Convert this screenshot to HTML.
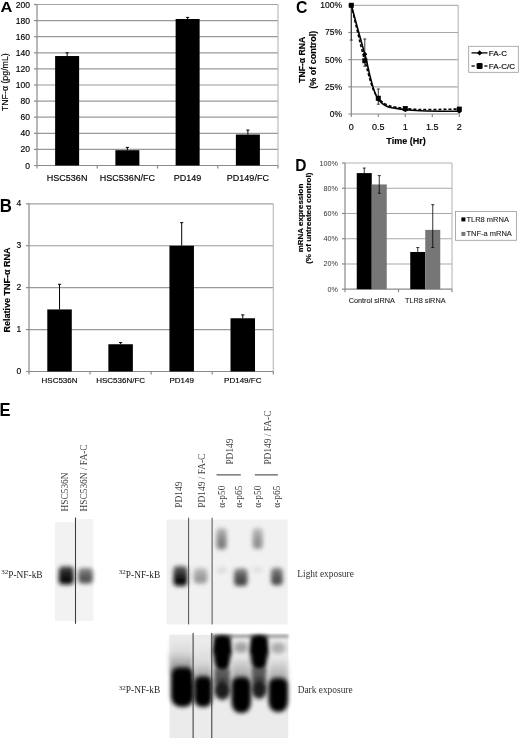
<!DOCTYPE html>
<html><head><meta charset="utf-8"><style>
html,body{margin:0;padding:0;background:#fff;}
svg{display:block;filter:grayscale(1);}
</style></head><body>
<svg width="520" height="741" viewBox="0 0 520 741">
<defs>
<filter id="b1" x="-50%" y="-50%" width="200%" height="200%"><feGaussianBlur stdDeviation="1.5"/></filter>
<filter id="b2" x="-50%" y="-50%" width="200%" height="200%"><feGaussianBlur stdDeviation="2.5"/></filter>
<filter id="b3" x="-50%" y="-50%" width="200%" height="200%"><feGaussianBlur stdDeviation="3.5"/></filter>
<filter id="b15" x="-50%" y="-50%" width="200%" height="200%"><feGaussianBlur stdDeviation="1.9"/></filter>
<filter id="b05" x="-50%" y="-50%" width="200%" height="200%"><feGaussianBlur stdDeviation="0.6"/></filter>
</defs>
<rect width="520" height="741" fill="#fff"/>
<line x1="37" y1="149.4" x2="278" y2="149.4" stroke="#999" stroke-width="1.2" />
<line x1="34" y1="149.4" x2="37" y2="149.4" stroke="#8a8a8a" stroke-width="1.2" />
<line x1="37" y1="133.3" x2="278" y2="133.3" stroke="#999" stroke-width="1.2" />
<line x1="34" y1="133.3" x2="37" y2="133.3" stroke="#8a8a8a" stroke-width="1.2" />
<line x1="37" y1="117.19999999999999" x2="278" y2="117.19999999999999" stroke="#999" stroke-width="1.2" />
<line x1="34" y1="117.19999999999999" x2="37" y2="117.19999999999999" stroke="#8a8a8a" stroke-width="1.2" />
<line x1="37" y1="101.1" x2="278" y2="101.1" stroke="#999" stroke-width="1.2" />
<line x1="34" y1="101.1" x2="37" y2="101.1" stroke="#8a8a8a" stroke-width="1.2" />
<line x1="37" y1="85.0" x2="278" y2="85.0" stroke="#999" stroke-width="1.2" />
<line x1="34" y1="85.0" x2="37" y2="85.0" stroke="#8a8a8a" stroke-width="1.2" />
<line x1="37" y1="68.89999999999999" x2="278" y2="68.89999999999999" stroke="#999" stroke-width="1.2" />
<line x1="34" y1="68.89999999999999" x2="37" y2="68.89999999999999" stroke="#8a8a8a" stroke-width="1.2" />
<line x1="37" y1="52.8" x2="278" y2="52.8" stroke="#999" stroke-width="1.2" />
<line x1="34" y1="52.8" x2="37" y2="52.8" stroke="#8a8a8a" stroke-width="1.2" />
<line x1="37" y1="36.69999999999999" x2="278" y2="36.69999999999999" stroke="#999" stroke-width="1.2" />
<line x1="34" y1="36.69999999999999" x2="37" y2="36.69999999999999" stroke="#8a8a8a" stroke-width="1.2" />
<line x1="37" y1="20.599999999999994" x2="278" y2="20.599999999999994" stroke="#999" stroke-width="1.2" />
<line x1="34" y1="20.599999999999994" x2="37" y2="20.599999999999994" stroke="#8a8a8a" stroke-width="1.2" />
<line x1="37" y1="4.5" x2="278" y2="4.5" stroke="#a2a2a2" stroke-width="1.2" />
<line x1="34" y1="4.5" x2="37" y2="4.5" stroke="#8a8a8a" stroke-width="1.2" />
<line x1="278" y1="4.5" x2="278" y2="165.5" stroke="#bdbdbd" stroke-width="1.2" />
<line x1="37" y1="4.5" x2="37" y2="168.5" stroke="#8a8a8a" stroke-width="1.2" />
<line x1="34" y1="165.5" x2="278" y2="165.5" stroke="#8a8a8a" stroke-width="1.2" />
<line x1="97.25" y1="165.5" x2="97.25" y2="168.5" stroke="#8a8a8a" stroke-width="1.2" />
<line x1="157.5" y1="165.5" x2="157.5" y2="168.5" stroke="#8a8a8a" stroke-width="1.2" />
<line x1="217.75" y1="165.5" x2="217.75" y2="168.5" stroke="#8a8a8a" stroke-width="1.2" />
<line x1="278.0" y1="165.5" x2="278.0" y2="168.5" stroke="#8a8a8a" stroke-width="1.2" />
<text x="30" y="168.5" font-size="8.5" text-anchor="end" fill="#000" stroke="#000" stroke-width="0.15" font-family='"Liberation Sans", sans-serif' >0</text>
<text x="30" y="152.4" font-size="8.5" text-anchor="end" fill="#000" stroke="#000" stroke-width="0.15" font-family='"Liberation Sans", sans-serif' >20</text>
<text x="30" y="136.3" font-size="8.5" text-anchor="end" fill="#000" stroke="#000" stroke-width="0.15" font-family='"Liberation Sans", sans-serif' >40</text>
<text x="30" y="120.19999999999999" font-size="8.5" text-anchor="end" fill="#000" stroke="#000" stroke-width="0.15" font-family='"Liberation Sans", sans-serif' >60</text>
<text x="30" y="104.1" font-size="8.5" text-anchor="end" fill="#000" stroke="#000" stroke-width="0.15" font-family='"Liberation Sans", sans-serif' >80</text>
<text x="30" y="88.0" font-size="8.5" text-anchor="end" fill="#000" stroke="#000" stroke-width="0.15" font-family='"Liberation Sans", sans-serif' >100</text>
<text x="30" y="71.89999999999999" font-size="8.5" text-anchor="end" fill="#000" stroke="#000" stroke-width="0.15" font-family='"Liberation Sans", sans-serif' >120</text>
<text x="30" y="55.8" font-size="8.5" text-anchor="end" fill="#000" stroke="#000" stroke-width="0.15" font-family='"Liberation Sans", sans-serif' >140</text>
<text x="30" y="39.69999999999999" font-size="8.5" text-anchor="end" fill="#000" stroke="#000" stroke-width="0.15" font-family='"Liberation Sans", sans-serif' >160</text>
<text x="30" y="23.599999999999994" font-size="8.5" text-anchor="end" fill="#000" stroke="#000" stroke-width="0.15" font-family='"Liberation Sans", sans-serif' >180</text>
<text x="30" y="7.5" font-size="8.5" text-anchor="end" fill="#000" stroke="#000" stroke-width="0.15" font-family='"Liberation Sans", sans-serif' >200</text>
<text transform="translate(5.0,82.2) rotate(-90)" x="0" y="0" font-size="8.8" text-anchor="middle" fill="#000" stroke="#000" stroke-width="0.15" font-family='"Liberation Sans", sans-serif' dominant-baseline="central">TNF-&#945; (pg/mL)</text>
<rect x="55.125" y="56.019999999999996" width="24" height="109.48" fill="#000" />
<line x1="67.125" y1="52.8" x2="67.125" y2="56.019999999999996" stroke="#000" stroke-width="1" />
<line x1="65.525" y1="52.8" x2="68.725" y2="52.8" stroke="#000" stroke-width="1" />
<text x="67.125" y="181.4" font-size="9" text-anchor="middle" fill="#000" stroke="#000" stroke-width="0.15" font-family='"Liberation Sans", sans-serif' >HSC536N</text>
<rect x="115.375" y="150.20499999999998" width="24" height="15.295000000000002" fill="#000" />
<line x1="127.375" y1="147.3875" x2="127.375" y2="150.20499999999998" stroke="#000" stroke-width="1" />
<line x1="125.775" y1="147.3875" x2="128.975" y2="147.3875" stroke="#000" stroke-width="1" />
<text x="127.375" y="181.4" font-size="9" text-anchor="middle" fill="#000" stroke="#000" stroke-width="0.15" font-family='"Liberation Sans", sans-serif' >HSC536N/FC</text>
<rect x="175.625" y="18.98999999999998" width="24" height="146.51000000000002" fill="#000" />
<line x1="187.625" y1="17.379999999999995" x2="187.625" y2="18.98999999999998" stroke="#000" stroke-width="1" />
<line x1="186.025" y1="17.379999999999995" x2="189.225" y2="17.379999999999995" stroke="#000" stroke-width="1" />
<text x="187.625" y="181.4" font-size="9" text-anchor="middle" fill="#000" stroke="#000" stroke-width="0.15" font-family='"Liberation Sans", sans-serif' >PD149</text>
<rect x="235.875" y="134.5075" width="24" height="30.992500000000003" fill="#000" />
<line x1="247.875" y1="130.07999999999998" x2="247.875" y2="134.5075" stroke="#000" stroke-width="1" />
<line x1="246.275" y1="130.07999999999998" x2="249.475" y2="130.07999999999998" stroke="#000" stroke-width="1" />
<text x="247.875" y="181.4" font-size="9" text-anchor="middle" fill="#000" stroke="#000" stroke-width="0.15" font-family='"Liberation Sans", sans-serif' >PD149/FC</text>
<text transform="translate(0.4,12.3) scale(1,0.9)" font-size="16.5" font-weight="bold" fill="#000" font-family='"Liberation Sans", sans-serif'>A</text>
<line x1="29" y1="329.575" x2="273.3" y2="329.575" stroke="#999" stroke-width="1.2" />
<line x1="26" y1="329.575" x2="29" y2="329.575" stroke="#8a8a8a" stroke-width="1.2" />
<line x1="29" y1="287.65" x2="273.3" y2="287.65" stroke="#999" stroke-width="1.2" />
<line x1="26" y1="287.65" x2="29" y2="287.65" stroke="#8a8a8a" stroke-width="1.2" />
<line x1="29" y1="245.72500000000002" x2="273.3" y2="245.72500000000002" stroke="#999" stroke-width="1.2" />
<line x1="26" y1="245.72500000000002" x2="29" y2="245.72500000000002" stroke="#8a8a8a" stroke-width="1.2" />
<line x1="29" y1="203.8" x2="273.3" y2="203.8" stroke="#a2a2a2" stroke-width="1.2" />
<line x1="26" y1="203.8" x2="29" y2="203.8" stroke="#8a8a8a" stroke-width="1.2" />
<line x1="273.3" y1="203.8" x2="273.3" y2="371.5" stroke="#bdbdbd" stroke-width="1.2" />
<line x1="29" y1="203.8" x2="29" y2="374.5" stroke="#8a8a8a" stroke-width="1.2" />
<line x1="26" y1="371.5" x2="273.3" y2="371.5" stroke="#8a8a8a" stroke-width="1.2" />
<line x1="90.075" y1="371.5" x2="90.075" y2="374.5" stroke="#8a8a8a" stroke-width="1.2" />
<line x1="151.15" y1="371.5" x2="151.15" y2="374.5" stroke="#8a8a8a" stroke-width="1.2" />
<line x1="212.22500000000002" y1="371.5" x2="212.22500000000002" y2="374.5" stroke="#8a8a8a" stroke-width="1.2" />
<line x1="273.3" y1="371.5" x2="273.3" y2="374.5" stroke="#8a8a8a" stroke-width="1.2" />
<text x="21.2" y="373.9" font-size="8.5" text-anchor="end" fill="#000" stroke="#000" stroke-width="0.15" font-family='"Liberation Sans", sans-serif' >0</text>
<text x="21.2" y="331.97499999999997" font-size="8.5" text-anchor="end" fill="#000" stroke="#000" stroke-width="0.15" font-family='"Liberation Sans", sans-serif' >1</text>
<text x="21.2" y="290.04999999999995" font-size="8.5" text-anchor="end" fill="#000" stroke="#000" stroke-width="0.15" font-family='"Liberation Sans", sans-serif' >2</text>
<text x="21.2" y="248.12500000000003" font-size="8.5" text-anchor="end" fill="#000" stroke="#000" stroke-width="0.15" font-family='"Liberation Sans", sans-serif' >3</text>
<text x="21.2" y="206.20000000000002" font-size="8.5" text-anchor="end" fill="#000" stroke="#000" stroke-width="0.15" font-family='"Liberation Sans", sans-serif' >4</text>
<text transform="translate(6.5,290) rotate(-90)" x="0" y="0" font-size="9" text-anchor="middle" font-weight="bold" fill="#000" stroke="#000" stroke-width="0.15" font-family='"Liberation Sans", sans-serif' dominant-baseline="central">Relative TNF-&#945; RNA</text>
<rect x="47.2875" y="309.451" width="24.5" height="62.04899999999999" fill="#000" />
<line x1="59.5375" y1="284.296" x2="59.5375" y2="309.451" stroke="#000" stroke-width="1" />
<line x1="57.9375" y1="284.296" x2="61.1375" y2="284.296" stroke="#000" stroke-width="1" />
<text x="59.5375" y="383" font-size="8" text-anchor="middle" fill="#000" stroke="#000" stroke-width="0.15" font-family='"Liberation Sans", sans-serif' >HSC536N</text>
<rect x="108.36250000000001" y="344.24875" width="24.5" height="27.25125" fill="#000" />
<line x1="120.61250000000001" y1="342.57175" x2="120.61250000000001" y2="344.24875" stroke="#000" stroke-width="1" />
<line x1="119.01250000000002" y1="342.57175" x2="122.2125" y2="342.57175" stroke="#000" stroke-width="1" />
<text x="120.61250000000001" y="383" font-size="8" text-anchor="middle" fill="#000" stroke="#000" stroke-width="0.15" font-family='"Liberation Sans", sans-serif' >HSC536N/FC</text>
<rect x="169.4375" y="245.72500000000002" width="24.5" height="125.77499999999999" fill="#000" />
<line x1="181.6875" y1="222.66625000000002" x2="181.6875" y2="245.72500000000002" stroke="#000" stroke-width="1" />
<line x1="180.0875" y1="222.66625000000002" x2="183.2875" y2="222.66625000000002" stroke="#000" stroke-width="1" />
<text x="181.6875" y="383" font-size="8" text-anchor="middle" fill="#000" stroke="#000" stroke-width="0.15" font-family='"Liberation Sans", sans-serif' >PD149</text>
<rect x="230.51250000000002" y="318.25525" width="24.5" height="53.244749999999996" fill="#000" />
<line x1="242.76250000000002" y1="314.90125" x2="242.76250000000002" y2="318.25525" stroke="#000" stroke-width="1" />
<line x1="241.16250000000002" y1="314.90125" x2="244.3625" y2="314.90125" stroke="#000" stroke-width="1" />
<text x="242.76250000000002" y="383" font-size="8" text-anchor="middle" fill="#000" stroke="#000" stroke-width="0.15" font-family='"Liberation Sans", sans-serif' >PD149/FC</text>
<text transform="translate(-0.2,212.4) scale(1,1.04)" font-size="16.8" font-weight="bold" fill="#000" font-family='"Liberation Sans", sans-serif'>B</text>
<line x1="351.3" y1="86.825" x2="458.2" y2="86.825" stroke="#a8a8a8" stroke-width="1.15" />
<line x1="348.3" y1="86.825" x2="351.3" y2="86.825" stroke="#8a8a8a" stroke-width="1.2" />
<line x1="351.3" y1="59.65" x2="458.2" y2="59.65" stroke="#a8a8a8" stroke-width="1.15" />
<line x1="348.3" y1="59.65" x2="351.3" y2="59.65" stroke="#8a8a8a" stroke-width="1.2" />
<line x1="351.3" y1="32.47500000000001" x2="458.2" y2="32.47500000000001" stroke="#a8a8a8" stroke-width="1.15" />
<line x1="348.3" y1="32.47500000000001" x2="351.3" y2="32.47500000000001" stroke="#8a8a8a" stroke-width="1.2" />
<line x1="351.3" y1="5.3" x2="458.2" y2="5.3" stroke="#b4b4b4" stroke-width="1.2" />
<line x1="348.3" y1="5.3" x2="351.3" y2="5.3" stroke="#8a8a8a" stroke-width="1.2" />
<line x1="458.2" y1="5.3" x2="458.2" y2="114" stroke="#bdbdbd" stroke-width="1.2" />
<line x1="351.3" y1="5.3" x2="351.3" y2="117" stroke="#8a8a8a" stroke-width="1.2" />
<line x1="348.3" y1="114" x2="458.2" y2="114" stroke="#8a8a8a" stroke-width="1.2" />
<line x1="378.3" y1="114" x2="378.3" y2="117" stroke="#8a8a8a" stroke-width="1.2" />
<line x1="405.3" y1="114" x2="405.3" y2="117" stroke="#8a8a8a" stroke-width="1.2" />
<line x1="432.3" y1="114" x2="432.3" y2="117" stroke="#8a8a8a" stroke-width="1.2" />
<line x1="459.3" y1="114" x2="459.3" y2="117" stroke="#8a8a8a" stroke-width="1.2" />
<text x="342" y="117.0" font-size="8.5" text-anchor="end" fill="#000" stroke="#000" stroke-width="0.15" font-family='"Liberation Sans", sans-serif' >0%</text>
<text x="342" y="89.825" font-size="8.5" text-anchor="end" fill="#000" stroke="#000" stroke-width="0.15" font-family='"Liberation Sans", sans-serif' >25%</text>
<text x="342" y="62.65" font-size="8.5" text-anchor="end" fill="#000" stroke="#000" stroke-width="0.15" font-family='"Liberation Sans", sans-serif' >50%</text>
<text x="342" y="35.47500000000001" font-size="8.5" text-anchor="end" fill="#000" stroke="#000" stroke-width="0.15" font-family='"Liberation Sans", sans-serif' >75%</text>
<text x="342" y="8.299999999999997" font-size="8.5" text-anchor="end" fill="#000" stroke="#000" stroke-width="0.15" font-family='"Liberation Sans", sans-serif' >100%</text>
<text x="351.3" y="130.4" font-size="9" text-anchor="middle" fill="#000" stroke="#000" stroke-width="0.15" font-family='"Liberation Sans", sans-serif' >0</text>
<text x="378.3" y="130.4" font-size="9" text-anchor="middle" fill="#000" stroke="#000" stroke-width="0.15" font-family='"Liberation Sans", sans-serif' >0.5</text>
<text x="405.3" y="130.4" font-size="9" text-anchor="middle" fill="#000" stroke="#000" stroke-width="0.15" font-family='"Liberation Sans", sans-serif' >1</text>
<text x="432.3" y="130.4" font-size="9" text-anchor="middle" fill="#000" stroke="#000" stroke-width="0.15" font-family='"Liberation Sans", sans-serif' >1.5</text>
<text x="459.3" y="130.4" font-size="9" text-anchor="middle" fill="#000" stroke="#000" stroke-width="0.15" font-family='"Liberation Sans", sans-serif' >2</text>
<text x="406" y="144.2" font-size="9" text-anchor="middle" font-weight="bold" fill="#000" stroke="#000" stroke-width="0.15" font-family='"Liberation Sans", sans-serif' >Time (Hr)</text>
<text transform="translate(302,59.8) rotate(-90)" x="0" y="0" font-size="8.6" text-anchor="middle" font-weight="bold" fill="#000" stroke="#000" stroke-width="0.15" font-family='"Liberation Sans", sans-serif' dominant-baseline="central">TNF-&#945; RNA</text>
<text transform="translate(312.5,59.8) rotate(-90)" x="0" y="0" font-size="9" text-anchor="middle" font-weight="bold" fill="#000" stroke="#000" stroke-width="0.15" font-family='"Liberation Sans", sans-serif' dominant-baseline="central">(% of control)</text>
<path d="M351.3,5.3 C353.6,14.5 360.3,45.2 364.8,60.7 C369.3,76.2 371.6,90.3 378.3,98.2 C385.1,106.2 391.8,106.8 405.3,108.6 C418.8,110.4 450.3,109.0 459.3,109.1" fill="none" stroke="#000" stroke-width="1.6" stroke-dasharray="3,2"/>
<path d="M351.3,5.3 C353.6,13.5 360.3,38.5 364.8,54.2 C369.3,69.9 371.6,90.1 378.3,99.3 C385.1,108.6 391.8,107.7 405.3,109.7 C418.8,111.6 450.3,111.0 459.3,111.3" fill="none" stroke="#000" stroke-width="1.6"/>
<line x1="351.3" y1="5.299999999999997" x2="351.3" y2="40.084" stroke="#222" stroke-width="0.9" />
<line x1="349.8" y1="5.299999999999997" x2="352.8" y2="5.299999999999997" stroke="#222" stroke-width="0.9" />
<line x1="349.8" y1="40.084" x2="352.8" y2="40.084" stroke="#222" stroke-width="0.9" />
<line x1="364.8" y1="38.997" x2="364.8" y2="66.172" stroke="#222" stroke-width="0.9" />
<line x1="363.3" y1="38.997" x2="366.3" y2="38.997" stroke="#222" stroke-width="0.9" />
<line x1="363.3" y1="66.172" x2="366.3" y2="66.172" stroke="#222" stroke-width="0.9" />
<line x1="378.3" y1="88.999" x2="378.3" y2="104.217" stroke="#222" stroke-width="0.9" />
<line x1="376.8" y1="88.999" x2="379.8" y2="88.999" stroke="#222" stroke-width="0.9" />
<line x1="376.8" y1="104.217" x2="379.8" y2="104.217" stroke="#222" stroke-width="0.9" />
<line x1="405.3" y1="107.478" x2="405.3" y2="110.739" stroke="#222" stroke-width="0.9" />
<line x1="403.8" y1="107.478" x2="406.8" y2="107.478" stroke="#222" stroke-width="0.9" />
<line x1="403.8" y1="110.739" x2="406.8" y2="110.739" stroke="#222" stroke-width="0.9" />
<rect x="348.8" y="2.799999999999997" width="5" height="5" fill="#000" />
<rect x="362.3" y="58.237" width="5" height="5" fill="#000" />
<rect x="375.8" y="95.7385" width="5" height="5" fill="#000" />
<rect x="402.8" y="106.065" width="5" height="5" fill="#000" />
<rect x="456.8" y="106.6085" width="5" height="5" fill="#000" />
<path d="M348.8,5.299999999999997 L351.3,2.799999999999997 L353.8,5.299999999999997 L351.3,7.799999999999997Z" fill="#000"/>
<path d="M362.3,54.215 L364.8,51.715 L367.3,54.215 L364.8,56.715Z" fill="#000"/>
<path d="M375.8,99.3255 L378.3,96.8255 L380.8,99.3255 L378.3,101.8255Z" fill="#000"/>
<path d="M402.8,109.652 L405.3,107.152 L407.8,109.652 L405.3,112.152Z" fill="#000"/>
<path d="M456.8,111.2825 L459.3,108.7825 L461.8,111.2825 L459.3,113.7825Z" fill="#000"/>
<rect x="468.7" y="46.3" width="49.6" height="26" fill="#fff" stroke="#999" stroke-width="0.8"/>
<line x1="471.5" y1="52.9" x2="487.5" y2="52.9" stroke="#000" stroke-width="1.3" />
<path d="M477,52.9 L479.6,50.3 L482.2,52.9 L479.6,55.5Z" fill="#000"/>
<text x="488.8" y="55.7" font-size="8" text-anchor="start" fill="#000" stroke="#000" stroke-width="0.15" font-family='"Liberation Sans", sans-serif' >FA-C</text>
<line x1="471.5" y1="66" x2="474.8" y2="66" stroke="#000" stroke-width="1.3" />
<line x1="484.3" y1="66" x2="487.5" y2="66" stroke="#000" stroke-width="1.3" />
<rect x="476.6" y="63" width="6" height="6" fill="#000" rx="1.2"/>
<text x="488.8" y="68.8" font-size="8" text-anchor="start" fill="#000" stroke="#000" stroke-width="0.15" font-family='"Liberation Sans", sans-serif' >FA-C/C</text>
<text transform="translate(296,12.9) scale(1,1.0)" font-size="15.8" font-weight="bold" fill="#000" font-family='"Liberation Sans", sans-serif'>C</text>
<line x1="345" y1="263.96" x2="452" y2="263.96" stroke="#aaa" stroke-width="1.1" />
<line x1="342" y1="263.96" x2="345" y2="263.96" stroke="#8a8a8a" stroke-width="1.2" />
<line x1="345" y1="238.72" x2="452" y2="238.72" stroke="#aaa" stroke-width="1.1" />
<line x1="342" y1="238.72" x2="345" y2="238.72" stroke="#8a8a8a" stroke-width="1.2" />
<line x1="345" y1="213.48000000000002" x2="452" y2="213.48000000000002" stroke="#aaa" stroke-width="1.1" />
<line x1="342" y1="213.48000000000002" x2="345" y2="213.48000000000002" stroke="#8a8a8a" stroke-width="1.2" />
<line x1="345" y1="188.24" x2="452" y2="188.24" stroke="#aaa" stroke-width="1.1" />
<line x1="342" y1="188.24" x2="345" y2="188.24" stroke="#8a8a8a" stroke-width="1.2" />
<line x1="345" y1="163" x2="452" y2="163" stroke="#b4b4b4" stroke-width="1.2" />
<line x1="342" y1="163" x2="345" y2="163" stroke="#8a8a8a" stroke-width="1.2" />
<line x1="452" y1="163" x2="452" y2="289.2" stroke="#bdbdbd" stroke-width="1.2" />
<line x1="345" y1="163" x2="345" y2="292.2" stroke="#8a8a8a" stroke-width="1.2" />
<line x1="342" y1="289.2" x2="452" y2="289.2" stroke="#8a8a8a" stroke-width="1.2" />
<line x1="398.5" y1="289.2" x2="398.5" y2="292.2" stroke="#8a8a8a" stroke-width="1.2" />
<line x1="452.0" y1="289.2" x2="452.0" y2="292.2" stroke="#8a8a8a" stroke-width="1.2" />
<text x="338" y="291.7" font-size="7.2" text-anchor="end" fill="#333" font-family='"Liberation Sans", sans-serif' >0%</text>
<text x="338" y="266.46" font-size="7.2" text-anchor="end" fill="#333" font-family='"Liberation Sans", sans-serif' >20%</text>
<text x="338" y="241.22" font-size="7.2" text-anchor="end" fill="#333" font-family='"Liberation Sans", sans-serif' >40%</text>
<text x="338" y="215.98000000000002" font-size="7.2" text-anchor="end" fill="#333" font-family='"Liberation Sans", sans-serif' >60%</text>
<text x="338" y="190.74" font-size="7.2" text-anchor="end" fill="#333" font-family='"Liberation Sans", sans-serif' >80%</text>
<text x="338" y="165.5" font-size="7.2" text-anchor="end" fill="#333" font-family='"Liberation Sans", sans-serif' >100%</text>
<text transform="translate(300.5,218) rotate(-90)" x="0" y="0" font-size="8" text-anchor="middle" font-weight="bold" fill="#000" stroke="#000" stroke-width="0.15" font-family='"Liberation Sans", sans-serif' dominant-baseline="central">mRNA expression</text>
<text transform="translate(308.8,218.2) rotate(-90)" x="0" y="0" font-size="8.1" text-anchor="middle" font-weight="bold" fill="#000" stroke="#000" stroke-width="0.15" font-family='"Liberation Sans", sans-serif' dominant-baseline="central">(% of untreated control)</text>
<rect x="356.75" y="173.096" width="15" height="116.10399999999998" fill="#000" />
<line x1="364.25" y1="168.048" x2="364.25" y2="173.096" stroke="#000" stroke-width="0.8" />
<line x1="362.75" y1="168.048" x2="365.75" y2="168.048" stroke="#000" stroke-width="0.8" />
<rect x="371.75" y="184.454" width="15" height="104.74599999999998" fill="#767676" />
<line x1="379.25" y1="175.62" x2="379.25" y2="193.288" stroke="#000" stroke-width="0.8" />
<line x1="377.75" y1="175.62" x2="380.75" y2="175.62" stroke="#000" stroke-width="0.8" />
<line x1="377.75" y1="193.288" x2="380.75" y2="193.288" stroke="#000" stroke-width="0.8" />
<rect x="410.25" y="251.971" width="15" height="37.22899999999999" fill="#000" />
<line x1="417.75" y1="247.554" x2="417.75" y2="251.971" stroke="#000" stroke-width="0.8" />
<line x1="416.25" y1="247.554" x2="419.25" y2="247.554" stroke="#000" stroke-width="0.8" />
<rect x="425.25" y="229.886" width="15" height="59.31399999999999" fill="#767676" />
<line x1="432.75" y1="204.64600000000002" x2="432.75" y2="247.554" stroke="#000" stroke-width="0.8" />
<line x1="431.25" y1="204.64600000000002" x2="434.25" y2="204.64600000000002" stroke="#000" stroke-width="0.8" />
<line x1="431.25" y1="247.554" x2="434.25" y2="247.554" stroke="#000" stroke-width="0.8" />
<text x="371.75" y="302.6" font-size="7.3" text-anchor="middle" fill="#222" stroke="#222" stroke-width="0.1" font-family='"Liberation Sans", sans-serif' >Control siRNA</text>
<text x="425.25" y="302.6" font-size="7.3" text-anchor="middle" fill="#222" stroke="#222" stroke-width="0.1" font-family='"Liberation Sans", sans-serif' >TLR8 siRNA</text>
<rect x="455.4" y="211.5" width="61.2" height="28.8" fill="#fff" stroke="#999" stroke-width="0.8"/>
<rect x="461.4" y="217.4" width="4" height="4" fill="#000" />
<text x="466.4" y="221.8" font-size="7.5" text-anchor="start" fill="#222" stroke="#222" stroke-width="0.1" font-family='"Liberation Sans", sans-serif' >TLR8 mRNA</text>
<rect x="461.4" y="231.9" width="4" height="4" fill="#767676" />
<text x="466.4" y="236.2" font-size="7.5" text-anchor="start" fill="#222" stroke="#222" stroke-width="0.1" font-family='"Liberation Sans", sans-serif' >TNF-a mRNA</text>
<text transform="translate(295.2,170.9) scale(1,1.1)" font-size="15.5" font-weight="bold" fill="#000" font-family='"Liberation Sans", sans-serif'>D</text>
<text transform="translate(-0.6,415.6) scale(1,1.07)" font-size="16.5" font-weight="bold" fill="#000" font-family='"Liberation Sans", sans-serif'>E</text>
<text transform="translate(68.4,511.5) rotate(-90)" x="0" y="0" font-size="9.4" fill="#404040" font-family='"Liberation Serif", serif'>HSC536N</text>
<text transform="translate(86.5,511.5) rotate(-90)" x="0" y="0" font-size="9.4" fill="#404040" font-family='"Liberation Serif", serif'>HSC536N / FA-C</text>
<rect x="54.9" y="522" width="19.6" height="99" fill="#f2f2f2" />
<rect x="76.5" y="519" width="17" height="102" fill="#f3f3f3" />
<linearGradient id="g1" x1="0" y1="0" x2="0" y2="1"><stop offset="0" stop-color="#444"/><stop offset="0.6" stop-color="#111"/><stop offset="1" stop-color="#111"/></linearGradient>
<rect x="58.8" y="566.5" width="14.9" height="18" rx="4" fill="url(#g1)" filter="url(#b15)"/>
<linearGradient id="g2" x1="0" y1="0" x2="0" y2="1"><stop offset="0" stop-color="#8a8a8a"/><stop offset="0.6" stop-color="#555"/><stop offset="1" stop-color="#555"/></linearGradient>
<rect x="78.3" y="568.0" width="14.4" height="15.5" rx="4" fill="url(#g2)" filter="url(#b15)"/>
<line x1="75.5" y1="517.5" x2="75.5" y2="623.7" stroke="#3a3a3a" stroke-width="1.1" />
<text x="1.2" y="577.7" font-size="9.4" fill="#222" font-family='"Liberation Serif", serif'><tspan font-size="7" dy="-3.3">32</tspan><tspan dy="3.3">P-NF-kB</tspan></text>
<text transform="translate(182.0,507.7) rotate(-90)" x="0" y="0" font-size="9.4" fill="#404040" font-family='"Liberation Serif", serif'>PD149</text>
<text transform="translate(204.89999999999998,507.7) rotate(-90)" x="0" y="0" font-size="9.4" fill="#404040" font-family='"Liberation Serif", serif'>PD149 / FA-C</text>
<text transform="translate(232.7,464.6) rotate(-90)" x="0" y="0" font-size="9.4" fill="#404040" font-family='"Liberation Serif", serif'>PD149</text>
<text transform="translate(270.9,464.6) rotate(-90)" x="0" y="0" font-size="9.4" fill="#404040" font-family='"Liberation Serif", serif'>PD149 / FA-C</text>
<text transform="translate(224.6,507.7) rotate(-90)" x="0" y="0" font-size="9.4" fill="#404040" font-family='"Liberation Serif", serif'>&#945;-p50</text>
<text transform="translate(241.79999999999998,507.7) rotate(-90)" x="0" y="0" font-size="9.4" fill="#404040" font-family='"Liberation Serif", serif'>&#945;-p65</text>
<text transform="translate(260.7,507.7) rotate(-90)" x="0" y="0" font-size="9.4" fill="#404040" font-family='"Liberation Serif", serif'>&#945;-p50</text>
<text transform="translate(280.3,507.7) rotate(-90)" x="0" y="0" font-size="9.4" fill="#404040" font-family='"Liberation Serif", serif'>&#945;-p65</text>
<line x1="216.5" y1="474.9" x2="240.8" y2="474.9" stroke="#333" stroke-width="1" />
<line x1="254.8" y1="474.9" x2="277.9" y2="474.9" stroke="#333" stroke-width="1" />
<rect x="166.5" y="519.6" width="121.2" height="104.8" fill="#f1f1f1" />
<linearGradient id="g3" x1="0" y1="0" x2="0" y2="1"><stop offset="0" stop-color="#666"/><stop offset="0.6" stop-color="#111"/><stop offset="1" stop-color="#111"/></linearGradient>
<rect x="173.5" y="566.0" width="13.9" height="20" rx="4" fill="url(#g3)" filter="url(#b15)"/>
<linearGradient id="g4" x1="0" y1="0" x2="0" y2="1"><stop offset="0" stop-color="#c0c0c0"/><stop offset="0.6" stop-color="#9a9a9a"/><stop offset="1" stop-color="#9a9a9a"/></linearGradient>
<rect x="193.8" y="568.0" width="13.4" height="15.5" rx="4" fill="url(#g4)" filter="url(#b15)"/>
<linearGradient id="g5" x1="0" y1="0" x2="0" y2="1"><stop offset="0" stop-color="#b8b8b8"/><stop offset="0.6" stop-color="#808080"/><stop offset="1" stop-color="#808080"/></linearGradient>
<rect x="216.5" y="528.0" width="10.1" height="21.5" rx="4" fill="url(#g5)" filter="url(#b15)"/>
<linearGradient id="g6" x1="0" y1="0" x2="0" y2="1"><stop offset="0" stop-color="#e0e0e0"/><stop offset="0.6" stop-color="#dadada"/><stop offset="1" stop-color="#dadada"/></linearGradient>
<rect x="216.5" y="567.0" width="10.1" height="6" rx="4" fill="url(#g6)" filter="url(#b15)"/>
<linearGradient id="g7" x1="0" y1="0" x2="0" y2="1"><stop offset="0" stop-color="#8a8a8a"/><stop offset="0.6" stop-color="#4a4a4a"/><stop offset="1" stop-color="#4a4a4a"/></linearGradient>
<rect x="234.10000000000002" y="568.5" width="13.3" height="17.5" rx="4" fill="url(#g7)" filter="url(#b15)"/>
<linearGradient id="g8" x1="0" y1="0" x2="0" y2="1"><stop offset="0" stop-color="#c0c0c0"/><stop offset="0.6" stop-color="#939393"/><stop offset="1" stop-color="#939393"/></linearGradient>
<rect x="252.60000000000002" y="528.0" width="10.1" height="21" rx="4" fill="url(#g8)" filter="url(#b15)"/>
<linearGradient id="g9" x1="0" y1="0" x2="0" y2="1"><stop offset="0" stop-color="#e2e2e2"/><stop offset="0.6" stop-color="#dcdcdc"/><stop offset="1" stop-color="#dcdcdc"/></linearGradient>
<rect x="252.60000000000002" y="567.0" width="10.1" height="5" rx="4" fill="url(#g9)" filter="url(#b15)"/>
<linearGradient id="g10" x1="0" y1="0" x2="0" y2="1"><stop offset="0" stop-color="#8a8a8a"/><stop offset="0.6" stop-color="#505050"/><stop offset="1" stop-color="#505050"/></linearGradient>
<rect x="271.1" y="567.8" width="11.6" height="17.5" rx="4" fill="url(#g10)" filter="url(#b15)"/>
<line x1="188.6" y1="517.7" x2="188.6" y2="624.4" stroke="#505050" stroke-width="1.0" />
<line x1="212.1" y1="517.7" x2="212.1" y2="624.4" stroke="#505050" stroke-width="1.0" />
<text x="118.8" y="577.7" font-size="9.4" fill="#222" font-family='"Liberation Serif", serif'><tspan font-size="7" dy="-3.3">32</tspan><tspan dy="3.3">P-NF-kB</tspan></text>
<text x="297.3" y="577.2" font-size="9.4" text-anchor="start" fill="#333" font-family='"Liberation Serif", serif'>Light exposure</text>
<rect x="169.5" y="634.8" width="118.8" height="103.2" fill="#ebebeb" />
<linearGradient id="g11" x1="0" y1="0" x2="0" y2="1"><stop offset="0" stop-color="#888"/><stop offset="1" stop-color="#aaa"/></linearGradient>
<rect x="212.5" y="634.8" width="75.8" height="3" fill="url(#g11)" filter="url(#b1)"/>
<linearGradient id="g12" x1="0" y1="0" x2="0" y2="1"><stop offset="0" stop-color="#ececec"/><stop offset="1" stop-color="#d0d0d0"/></linearGradient>
<rect x="170" y="637" width="23" height="24" fill="url(#g12)" filter="url(#b2)"/>
<linearGradient id="g13" x1="0" y1="0" x2="0" y2="1"><stop offset="0" stop-color="#cfcfcf"/><stop offset="1" stop-color="#7a7a7a"/></linearGradient>
<rect x="170" y="655" width="23" height="18" fill="url(#g13)" filter="url(#b2)"/>
<path d="M171,676.5 Q171,667.5 180,667.5 L185,667.5 Q194,667.5 194,676.5 L194,695 Q194,707 182.5,707 Q171,707 171,695 Z" fill="#000" filter="url(#b15)"/>
<linearGradient id="g14" x1="0" y1="0" x2="0" y2="1"><stop offset="0" stop-color="#eeeeee"/><stop offset="1" stop-color="#d5d5d5"/></linearGradient>
<rect x="194" y="640" width="17.5" height="28" fill="url(#g14)" filter="url(#b2)"/>
<linearGradient id="g15" x1="0" y1="0" x2="0" y2="1"><stop offset="0" stop-color="#d5d5d5"/><stop offset="1" stop-color="#8a8a8a"/></linearGradient>
<rect x="194" y="664" width="17.5" height="18" fill="url(#g15)" filter="url(#b2)"/>
<path d="M194.2,683.5 Q194.2,676.5 201.2,676.5 L205,676.5 Q212,676.5 212,683.5 L212,698 Q212,707 203.1,707 Q194.2,707 194.2,698 Z" fill="#000" filter="url(#b15)"/>
<ellipse cx="222.3" cy="655" rx="8.6" ry="18.5" fill="#000" filter="url(#b15)" opacity="1"/>
<rect x="214" y="636" width="16.6" height="18" fill="#000" filter="url(#b15)"/>
<linearGradient id="g16" x1="0" y1="0" x2="0" y2="1"><stop offset="0" stop-color="#5a5a5a"/><stop offset="1" stop-color="#555"/></linearGradient>
<rect x="214" y="669" width="16.5" height="15" fill="url(#g16)" filter="url(#b15)"/>
<ellipse cx="222.3" cy="690" rx="8.2" ry="10" fill="#1a1a1a" filter="url(#b15)" opacity="1"/>
<ellipse cx="241" cy="647.5" rx="7.5" ry="5.5" fill="#a0a0a0" filter="url(#b2)" opacity="1"/>
<linearGradient id="g17" x1="0" y1="0" x2="0" y2="1"><stop offset="0" stop-color="#e0e0e0"/><stop offset="1" stop-color="#999"/></linearGradient>
<rect x="232" y="658" width="18" height="22" fill="url(#g17)" filter="url(#b2)"/>
<path d="M231.5,685 Q231.5,677 239.5,677 L243,677 Q251,677 251,685 L251,700 Q251,713 241.25,713 Q231.5,713 231.5,700 Z" fill="#000" filter="url(#b15)"/>
<ellipse cx="259.2" cy="654.5" rx="8.6" ry="18.5" fill="#000" filter="url(#b15)" opacity="1"/>
<rect x="251" y="636" width="16.4" height="18" fill="#000" filter="url(#b15)"/>
<linearGradient id="g18" x1="0" y1="0" x2="0" y2="1"><stop offset="0" stop-color="#5a5a5a"/><stop offset="1" stop-color="#555"/></linearGradient>
<rect x="251.5" y="668" width="15" height="15" fill="url(#g18)" filter="url(#b15)"/>
<ellipse cx="259.2" cy="689" rx="7.8" ry="10" fill="#1a1a1a" filter="url(#b15)" opacity="1"/>
<ellipse cx="278" cy="648" rx="7.5" ry="5.5" fill="#aaaaaa" filter="url(#b2)" opacity="1"/>
<linearGradient id="g19" x1="0" y1="0" x2="0" y2="1"><stop offset="0" stop-color="#e2e2e2"/><stop offset="1" stop-color="#a0a0a0"/></linearGradient>
<rect x="269" y="659" width="18.5" height="22" fill="url(#g19)" filter="url(#b2)"/>
<path d="M268.5,686 Q268.5,678 276.5,678 L280,678 Q288,678 288,686 L288,699 Q288,712 278.25,712 Q268.5,712 268.5,699 Z" fill="#000" filter="url(#b15)"/>
<line x1="193.1" y1="633" x2="193.1" y2="738" stroke="#333" stroke-width="1" />
<line x1="211.8" y1="633" x2="211.8" y2="738" stroke="#333" stroke-width="1" />
<text x="118.8" y="692.8" font-size="9.4" fill="#222" font-family='"Liberation Serif", serif'><tspan font-size="7" dy="-3.3">32</tspan><tspan dy="3.3">P-NF-kB</tspan></text>
<text x="297.7" y="693" font-size="9.4" text-anchor="start" fill="#333" font-family='"Liberation Serif", serif'>Dark exposure</text>
</svg>
</body></html>
